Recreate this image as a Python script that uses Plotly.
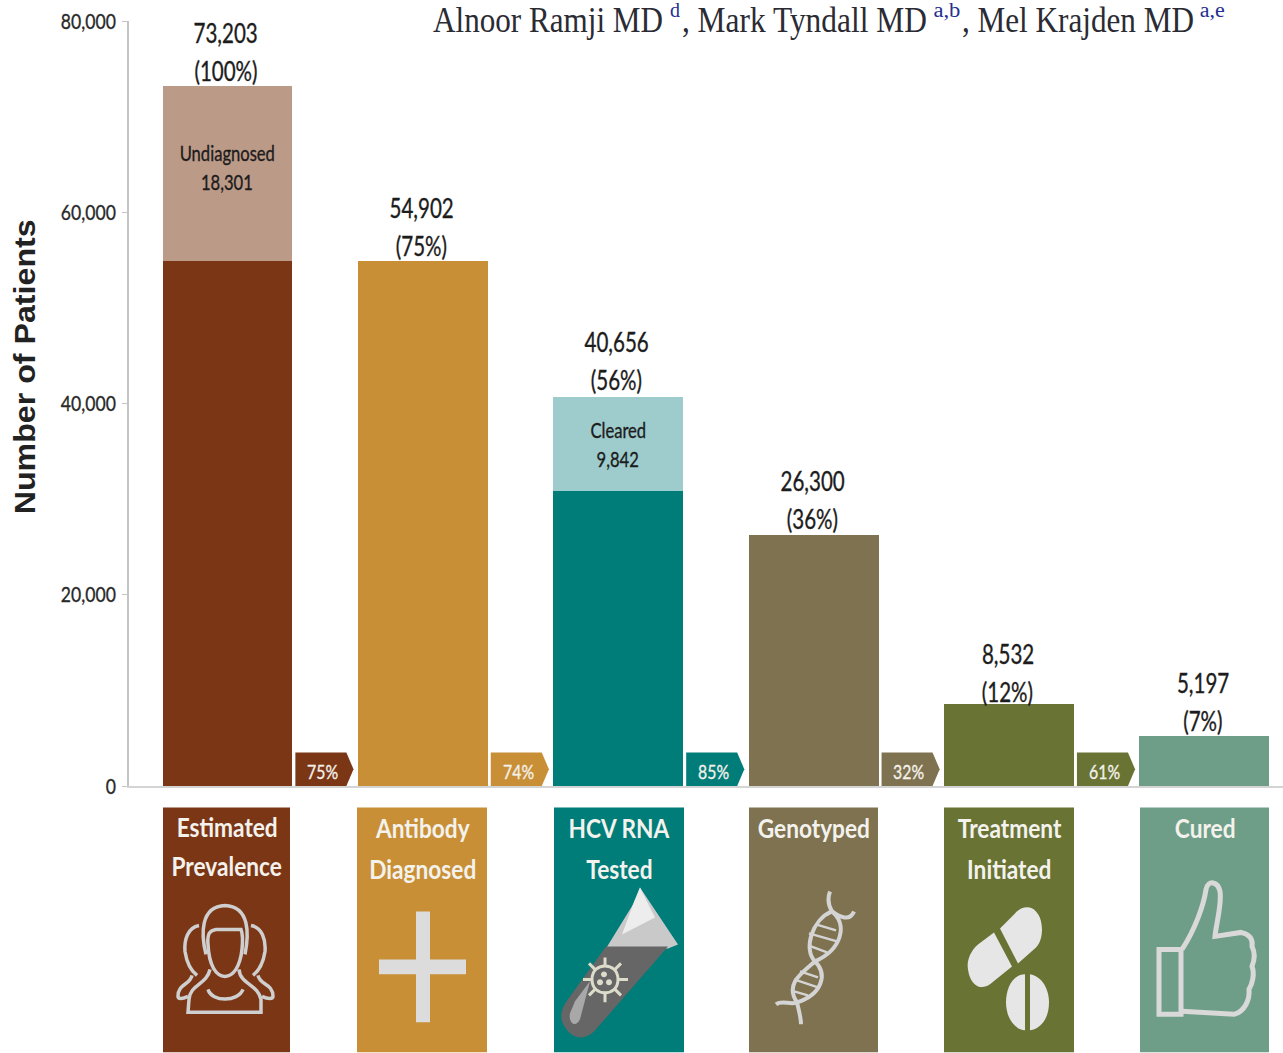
import json
import re
import plotly.graph_objects as go

# Cascade stages and patient counts
stages = ["Estimated<br>Prevalence", "Antibody<br>Diagnosed", "HCV RNA<br>Tested",
          "Genotyped", "Treatment<br>Initiated", "Cured"]
totals = [73203, 54902, 40656, 26300, 8532, 5197]
lower_segment = [54902, 54902, 30814, 26300, 8532, 5197]
upper_segment = [18301, 0, 9842, 0, 0, 0]
share_of_total = ["100%", "75%", "56%", "36%", "12%", "7%"]
step_rates = ["75%", "74%", "85%", "32%", "61%"]
segment_names = {0: "Undiagnosed", 2: "Cleared"}
axis_title = "Number of Patients"

# Author line: text, left edge, right edge, is it a superscript
author_parts = [
    ("Alnoor Ramji MD", 433, 663, False),
    ("d", 670, 680, True),
    (", Mark Tyndall MD", 682, 927, False),
    ("a,b", 933, 960, True),
    (", Mel Krajden MD", 962, 1194, False),
    ("a,e", 1200, 1225, True),
]

stage_colors = ["#7B3615", "#C88F36", "#007C79", "#7F7250", "#687334", "#6E9E87"]
upper_colors = ["#BC9A88", "#BC9A88", "#9ECCCC", "#9ECCCC", "#9ECCCC", "#9ECCCC"]

SANS = "Lato"
W, H = 1283, 1053
LEFT, RIGHT, TOP, BOTTOM = 129, 1283, 21, 786.5
INK = "#1c1c1c"


def px_x(x):
    return (x - LEFT) / (RIGHT - LEFT)


def px_y(y):
    return (BOTTOM - y) / (BOTTOM - TOP)


def to_paper(path):
    """Turn an SVG path written in page pixels into paper coordinates."""
    out, is_x = [], True
    for tok in re.findall(r"[A-Za-z]|-?\d+\.?\d*", path):
        if tok.isalpha():
            out.append(tok)
            is_x = True
        else:
            out.append(f"{px_x(float(tok)) if is_x else px_y(float(tok)):.5f}")
            is_x = not is_x
    return " ".join(out)


fig = go.Figure()
positions = list(range(len(stages)))

fig.add_bar(x=positions, y=lower_segment, marker_color=stage_colors, width=0.665,
            hoverinfo="skip", marker_line_width=0)
fig.add_bar(x=positions, y=upper_segment, marker_color=upper_colors, width=0.665,
            hoverinfo="skip", marker_line_width=0)

# Pentagon arrows carrying the step-to-step conversion rate
ARROW_H = 3500
for i, rate in enumerate(step_rates):
    fig.add_scatter(
        x=[i + 0.3475, i + 0.6085, i + 0.645, i + 0.6085, i + 0.3475, i + 0.3475],
        y=[0, 0, ARROW_H / 2, ARROW_H, ARROW_H, 0],
        mode="lines", line=dict(width=0), fill="toself", fillcolor=stage_colors[i],
        hoverinfo="skip",
    )
    fig.add_annotation(x=i + 0.487, y=ARROW_H / 2, text=rate, showarrow=False,
                       yshift=-2, font=dict(family=SANS, size=20, color="#F4F1EA"))

# Totals above each bar
label_nudge = [0, 0, 2, 1, -3, 0]
for i, total in enumerate(totals):
    fig.add_annotation(x=i, y=total, text=f"{total:,}", showarrow=False,
                       yshift=53 + label_nudge[i], xshift=-1.5,
                       font=dict(family=SANS, size=26, color=INK))
    fig.add_annotation(x=i, y=total, text=f"({share_of_total[i]})", showarrow=False,
                       yshift=15 + label_nudge[i], xshift=-1.5,
                       font=dict(family=SANS, size=26, color=INK))

# Names inside the pale upper segments
for i, name in segment_names.items():
    mid = lower_segment[i] + upper_segment[i] / 2
    fig.add_annotation(x=i, y=mid, text=name, showarrow=False, yshift=21 if i == 0 else 15,
                       font=dict(family=SANS, size=21, color=INK))
    fig.add_annotation(x=i, y=mid, text=f"{upper_segment[i]:,}", showarrow=False,
                       yshift=-8 if i == 0 else -14,
                       font=dict(family=SANS, size=21, color=INK))

shapes = []

# Stage cards under the axis
card_edges = [(163, 290), (357, 487), (554, 684), (749, 878), (944, 1074), (1140, 1269)]
for i, (x0, x1) in enumerate(card_edges):
    shapes.append(dict(type="rect", xref="paper", yref="paper", x0=px_x(x0), x1=px_x(x1),
                       y0=px_y(H), y1=px_y(808), fillcolor=stage_colors[i], line_width=0))
    lines = stages[i].split("<br>")
    for j, line in enumerate(lines):
        fig.add_annotation(xref="paper", yref="paper", x=px_x((x0 + x1) / 2),
                           y=px_y((827 if i == 0 else 828) + j * (39 if i == 0 else 41)),
                           text=line, showarrow=False, xanchor="center", yanchor="middle",
                           font=dict(family=SANS, size=27, color="#F4F2EC", weight=700))


def stroke(path, color="#D2D2D2", width=3.0):
    shapes.append(dict(type="path", xref="paper", yref="paper", path=to_paper(path),
                       line=dict(color=color, width=width), fillcolor="rgba(0,0,0,0)"))


def solid(path, color):
    shapes.append(dict(type="path", xref="paper", yref="paper", path=to_paper(path),
                       line_width=0, fillcolor=color))


# People icon
stroke("M 206 955 C 201 935 200 907 225 906 C 250 907 249 935 245 955", "#CFCFCF", 3.5)
stroke("M 208 945 C 207 934 210 931 216 930 L 241 930 C 243 935 243 940 242 950 "
       "C 240 968 233 977 225 977 C 216 977 209 966 208 945 Z", "#CFCFCF", 3.5)
stroke("M 210 970 C 207 985 190 985 189 1000 L 188 1013 L 261 1013 L 261 1000 C 258 985 240 985 239 970",
       "#CFCFCF", 3.5)
stroke("M 208 990 C 212 1003 238 1003 243 990", "#CFCFCF", 3.5)
stroke("M 199 926 C 188 928 184 940 185 952 C 187 965 192 972 197 976", "#CFCFCF", 3.5)
stroke("M 251 926 C 262 928 266 940 265 952 C 263 965 258 972 253 976", "#CFCFCF", 3.5)
stroke("M 192 976 C 190 986 178 984 178 997 C 178 1000 182 1000 188 997", "#CFCFCF", 3.5)
stroke("M 258 976 C 260 986 273 984 273 997 C 273 1000 268 1000 262 997", "#CFCFCF", 3.5)

# Plus icon
solid("M 416 912 L 430 912 L 430 960 L 466 960 L 466 975 L 430 975 L 430 1023 L 416 1023 "
      "L 416 975 L 379 975 L 379 960 L 416 960 Z", "#DCDCDC")

# Test tube icon
solid("M 640 888 L 678 945 L 668 949 L 606 949 L 633 905 Z", "#C9C9C9")
solid("M 640 888 L 655 918 L 622 935 L 633 905 Z", "#EDEDED")
solid("M 606 947 L 668 947 L 596 1030 C 586 1042 572 1040 565 1028 C 558 1018 562 1008 568 1000 Z", "#666666")
solid("M 575 1002 L 590 982 L 580 1020 C 575 1030 568 1022 570 1014 Z", "#A8A8A8")
stroke("M 592 980 C 592 962 618 962 618 980 C 618 998 592 998 592 980 Z", "#DDDCCB", 3)
stroke("M 605 967 L 605 958 M 605 993 L 605 1003 M 592 980 L 583 980 M 618 980 L 628 980 "
       "M 596 971 L 589 964 M 614 971 L 621 964 M 596 989 L 589 996 M 614 989 L 621 996", "#DDDCCB", 3)
solid("M 601 975 C 601 971 607 971 607 975 C 607 979 601 979 601 975 Z", "#DDDCCB")
solid("M 597 983 C 597 979 603 979 603 983 C 603 987 597 987 597 983 Z", "#DDDCCB")
solid("M 606 983 C 606 979 612 979 612 983 C 612 987 606 987 606 983 Z", "#DDDCCB")

# DNA icon
stroke("M 830 892 C 827 900 829 907 832 912 C 848 925 842 950 815 962 C 800 975 785 985 797 1003 "
       "C 799 1012 801 1018 801 1025", "#D4D4D4", 4)
stroke("M 854 912 C 850 922 840 918 832 912 C 812 920 803 950 815 962 C 828 975 822 995 797 1003 "
       "C 790 1006 782 1000 776 1005", "#D4D4D4", 4)
stroke("M 816 925 L 836 931 M 809 934 L 837 942 M 811 947 L 827 953 "
       "M 800 972 L 818 978 M 794 980 L 818 988 M 794 992 L 808 996", "#D4D4D4", 2.5)

# Pills icon
solid("M 994 933 L 1012 967 L 990 985 C 980 992 970 985 968 970 C 966 960 972 950 978 945 Z", "#E6E6E6")
solid("M 1000 929 L 1018 964 L 1036 948 C 1044 940 1044 920 1036 912 C 1030 905 1020 908 1015 914 Z", "#E6E6E6")
solid("M 1025 975 C 1012 975 1006 990 1006 1003 C 1006 1018 1014 1030 1025 1031 Z", "#E6E6E6")
solid("M 1030 975 C 1042 977 1049 990 1049 1003 C 1049 1018 1042 1029 1030 1031 Z", "#E6E6E6")

# Thumbs-up icon
stroke("M 1159 950 L 1181 950 L 1181 1015 L 1159 1015 Z", "#D9D9D9", 5)
stroke("M 1182 950 C 1195 930 1204 905 1206 890 C 1208 880 1218 882 1220 892 C 1222 905 1216 925 1215 937 "
       "L 1241 933 C 1250 935 1253 940 1252 947 C 1256 955 1254 962 1252 967 C 1255 975 1252 985 1249 990 "
       "C 1250 1000 1245 1012 1234 1015 L 1182 1012", "#D9D9D9", 5)

# Author line across the top of the page
fixed_widths = {axis_title: 295}
for text, x0, x1, is_sup in author_parts:
    fixed_widths[text] = x1 - x0
    fig.add_annotation(
        xref="paper", yref="paper", x=px_x((x0 + x1) / 2), y=px_y(10 if is_sup else 20),
        showarrow=False, xanchor="center", yanchor="middle", text=text,
        font=dict(family="Liberation Serif", size=20 if is_sup else 36,
                  color="#23308F" if is_sup else "#2b2b33"),
    )

# Axis title, centred on its own position beside the scale
fig.add_annotation(
    xref="paper", yref="paper", x=px_x(25), y=px_y(367), text=axis_title, textangle=-90,
    showarrow=False, xanchor="center", yanchor="middle",
    font=dict(family="Liberation Sans", size=29, color="#222222", weight=700),
)

fig.update_layout(
    width=W, height=H, barmode="stack", showlegend=False,
    margin=dict(l=LEFT, r=W - RIGHT, t=TOP, b=H - BOTTOM, autoexpand=False),
    paper_bgcolor="white", plot_bgcolor="white", shapes=shapes,
    xaxis=dict(range=[-0.504, 5.402], showticklabels=False, ticks="", showgrid=False, zeroline=False,
               showline=True, linecolor="#D4D4D4", linewidth=2),
    yaxis=dict(range=[0, 80000], tickvals=[0, 20000, 40000, 60000, 80000], tickformat=",",
               showgrid=False, zeroline=False, showline=True, linecolor="#C4C4C4", linewidth=1.5,
               ticks="outside", ticklen=5, tickcolor="#C4C4C4", ticklabelstandoff=2,
               tickfont=dict(family=SANS, size=22, color="#2a2a2a")),
)

# Condense the drawn text widths: sans labels by a common factor, some pieces to set widths
condense = """
var gd = document.getElementById('{plot_id}');
var fixedWidths = FIXED_WIDTHS;
function squeeze(t, target) {
  t.setAttribute('lengthAdjust', 'spacingAndGlyphs');
  t.setAttribute('textLength', target);
}
function thicken(t) {
  t.style.stroke = t.style.fill;
  t.style.strokeWidth = '0.35px';
}
gd.querySelectorAll('.annotation-text').forEach(function (t) {
  var w = fixedWidths[t.textContent];
  if (w !== undefined) { squeeze(t, w); return; }
  var bold = parseFloat(t.style.fontSize) === 27;
  squeeze(t, t.getComputedTextLength() * (bold ? 0.84 : 0.79));
  if (!bold) thicken(t);
});
gd.querySelectorAll('.ytick text').forEach(function (t) {
  squeeze(t, t.getComputedTextLength() * 0.8);
  thicken(t);
});
""".replace("FIXED_WIDTHS", json.dumps(fixed_widths))

fig.write_html("out.html", config=dict(displayModeBar=False), post_script=condense)
